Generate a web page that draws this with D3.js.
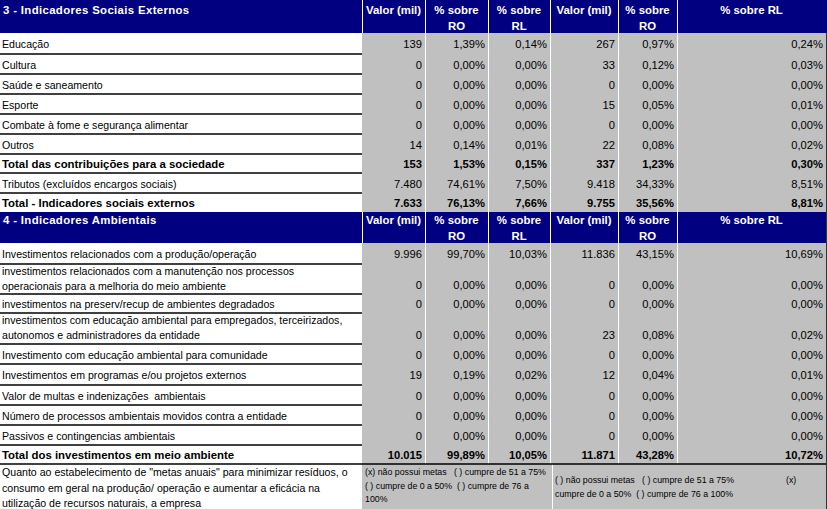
<!DOCTYPE html>
<html><head><meta charset="utf-8">
<script src="https://cdn.jsdelivr.net/npm/d3@7"></script>
<style>
body{margin:0;background:#fff;}
svg{display:block;font-family:"Liberation Sans",Arial,sans-serif;}
svg text{white-space:pre;}
</style></head>
<body>
<svg id="chart" width="827" height="509"></svg>
<script>
// ---------- DATA ----------
const columnHeaders = [["Valor (mil)"],["% sobre","RO"],["% sobre","RL"],["Valor (mil)"],["% sobre","RO"],["% sobre RL"]];

const socialTitle = "3 - Indicadores Sociais Externos";
const socialLabels = [["Educação"],["Cultura"],["Saúde e saneamento"],["Esporte"],["Combate à fome e segurança alimentar"],["Outros"],["Total das contribuições para a sociedade"],["Tributos (excluídos encargos sociais)"],["Total - Indicadores sociais externos"]];
const socialBold = [false,false,false,false,false,false,true,false,true];
const socialValor1 = [139,0,0,0,0,14,153,7480,7633];
const socialRO1    = [1.39,0,0,0,0,0.14,1.53,74.61,76.13];
const socialRL1    = [0.14,0,0,0,0,0.01,0.15,7.50,7.66];
const socialValor2 = [267,33,0,15,0,22,337,9418,9755];
const socialRO2    = [0.97,0.12,0,0.05,0,0.08,1.23,34.33,35.56];
const socialRL2    = [0.24,0.03,0,0.01,0,0.02,0.30,8.51,8.81];

const envTitle = "4 - Indicadores Ambientais";
const envLabels = [["Investimentos relacionados com a produção/operação"],
  ["investimentos relacionados com a manutenção nos processos","operacionais para a melhoria do meio ambiente"],
  ["investimentos na preserv/recup de ambientes degradados"],
  ["investimentos com educação ambiental para empregados, terceirizados,","autonomos e administradores da entidade"],
  ["Investimento com educação ambiental para comunidade"],
  ["Investimentos em programas e/ou projetos externos"],
  ["Valor de multas e indenizações  ambientais"],
  ["Número de processos ambientais movidos contra a entidade"],
  ["Passivos e contingencias ambientais"],
  ["Total dos investimentos em meio ambiente"]];
const envBold = [false,false,false,false,false,false,false,false,false,true];
const envValor1 = [9996,0,0,0,0,19,0,0,0,10015];
const envRO1    = [99.70,0,0,0,0,0.19,0,0,0,99.89];
const envRL1    = [10.03,0,0,0,0,0.02,0,0,0,10.05];
const envValor2 = [11836,0,0,23,0,12,0,0,0,11871];
const envRO2    = [43.15,0,0,0.08,0,0.04,0,0,0,43.28];
const envRL2    = [10.69,0,0,0.02,0,0.01,0,0,0,10.72];

const metasLabel = ["Quanto ao estabelecimento de \"metas anuais\" para minimizar resíduos, o","consumo em geral na produção/ operação e aumentar a eficácia na","utilização de recursos naturais, a empresa"];
const metasCell1 = ["(x) não possui metas   ( ) cumpre de 51 a 75%","( ) cumpre de 0 a 50%  ( ) cumpre de 76 a","100%"];
const metasCell2 = ["( ) não possui metas   ( ) cumpre de 51 a 75%","cumpre de 0 a 50%  ( ) cumpre de 76 a 100%"];
const metasCell3 = ["(x)"];

// ---------- LAYOUT ----------
const W = 827, H = 509;
const NAVY = "#000080", GREY = "#C0C0C0";
const colKeys = ["label","v1","ro1","rl1","v2","ro2","rl2"];
const colEdges = [0,362,425,488,550,618,677,826];
const xLeft = d3.scaleOrdinal().domain(colKeys).range(colEdges.slice(0,-1));
const xRight = d3.scaleOrdinal().domain(colKeys).range(colEdges.slice(1));

const locale = d3.formatLocale({decimal:",",thousands:".",grouping:[3],currency:["R$",""]});
const fmtInt = locale.format(",d");
const fmtPct = v => locale.format(",.2f")(v) + "%";

const socialHeights = [21,20,20,20,20,20,19,20,19];
const envHeights = [21,30,19,31,20,21,20,20,20,19];
const metasH = 45;
const FS_LABEL = 10.6, FS_BOLDLABEL = 11.4, FS_VAL = 11.2, FS_HEAD = 11.4, FS_SMALL = 8.8;

const svg = d3.select("#chart");
svg.append("rect").attr("width",W).attr("height",H).attr("fill","#fff");

function buildRows(labels,bold,a,b,c,d,e,f){
  return labels.map((l,i)=>({label:l,bold:bold[i],vals:[fmtInt(a[i]),fmtPct(b[i]),fmtPct(c[i]),fmtInt(d[i]),fmtPct(e[i]),fmtPct(f[i])]}));
}
const socialRows = buildRows(socialLabels,socialBold,socialValor1,socialRO1,socialRL1,socialValor2,socialRO2,socialRL2);
const envRows = buildRows(envLabels,envBold,envValor1,envRO1,envRL1,envValor2,envRO2,envRL2);

function drawHeader(y0,h,title,base){
  const g = svg.append("g");
  g.append("rect").attr("x",0).attr("y",y0).attr("width",W).attr("height",h).attr("fill",NAVY);
  g.append("text").attr("x",3).attr("y",y0+base).attr("fill","#fff").attr("font-weight","bold")
    .attr("font-size",FS_HEAD).attr("letter-spacing",0.35).text(title);
  colKeys.slice(1).forEach((k,i)=>{
    const cx = (xLeft(k)+xRight(k))/2;
    columnHeaders[i].forEach((t,j)=>{
      g.append("text").attr("x",cx).attr("y",y0+base+j*15.5).attr("text-anchor","middle")
        .attr("fill","#fff").attr("font-weight","bold").attr("font-size",FS_HEAD).text(t);
    });
    g.append("line").attr("x1",xLeft(k)+0.5).attr("x2",xLeft(k)+0.5).attr("y1",y0).attr("y2",y0+h)
      .attr("stroke","#fff").attr("stroke-width",1);
  });
  return y0+h;
}

function drawBody(y0,rows,heights){
  const tops = [y0, ...d3.cumsum(heights).map(v=>v+y0)];
  const yEnd = tops[tops.length-1];
  svg.append("rect").attr("x",colEdges[1]).attr("y",y0).attr("width",colEdges[7]-colEdges[1]).attr("height",yEnd-y0).attr("fill",GREY);
  rows.forEach((r,i)=>{
    const top = tops[i], h = heights[i];
    const g = svg.append("g");
    const n = r.label.length;
    r.label.forEach((t,j)=>{
      const base = n===1 ? top + h/2 + 4.5 : top + 11 + j*15;
      g.append("text").attr("x",2).attr("y",base).attr("font-size",r.bold?FS_BOLDLABEL:FS_LABEL)
        .attr("font-weight",r.bold?"bold":"normal").attr("fill","#000").text(t);
    });
    const vb = n===1 ? top + h/2 + 4.5 : top + h - 5;
    r.vals.forEach((v,k)=>{
      const key = colKeys[k+1];
      g.append("text").attr("x",xRight(key)-3).attr("y",vb).attr("text-anchor","end").attr("font-size",FS_VAL)
        .attr("font-weight",r.bold?"bold":"normal").attr("fill","#000").text(v);
    });
    if(i>0){
      svg.append("line").attr("x1",0).attr("x2",colEdges[1]).attr("y1",top).attr("y2",top)
        .attr("stroke","#000").attr("stroke-width",1.4);
    }
  });
  colKeys.slice(2).forEach(k=>{
    svg.append("line").attr("x1",xLeft(k)+0.5).attr("x2",xLeft(k)+0.5).attr("y1",y0).attr("y2",yEnd)
      .attr("stroke","#fff").attr("stroke-width",1);
  });
  return yEnd;
}

let y = 0;
y = drawHeader(y,33,socialTitle,14);
y = drawBody(y,socialRows,socialHeights);
y = drawHeader(y,31,envTitle,12);
y = drawBody(y,envRows,envHeights);

// metas block
const mTop = y;
svg.append("rect").attr("x",colEdges[1]).attr("y",mTop).attr("width",colEdges[7]-colEdges[1]).attr("height",metasH).attr("fill",GREY);
svg.append("line").attr("x1",552.5).attr("x2",552.5).attr("y1",mTop).attr("y2",H).attr("stroke","#fff");
metasLabel.forEach((t,j)=>{
  svg.append("text").attr("x",2).attr("y",mTop+12+j*15.5).attr("font-size",FS_LABEL).attr("fill","#000").text(t);
});
metasCell1.forEach((t,j)=>{
  svg.append("text").attr("x",365).attr("y",mTop+11+j*13.5).attr("font-size",FS_SMALL).attr("fill","#000").text(t);
});
metasCell2.forEach((t,j)=>{
  svg.append("text").attr("x",555).attr("y",mTop+19+j*13.5).attr("font-size",FS_SMALL).attr("fill","#000").text(t);
});
metasCell3.forEach((t,j)=>{
  svg.append("text").attr("x",786).attr("y",mTop+19+j*13.5).attr("font-size",FS_SMALL).attr("fill","#000").text(t);
});
svg.append("line").attr("x1",0).attr("x2",W).attr("y1",mTop).attr("y2",mTop).attr("stroke","#000").attr("stroke-width",1.4);
// right border
svg.append("line").attr("x1",826.5).attr("x2",826.5).attr("y1",33).attr("y2",H).attr("stroke","#333").attr("stroke-width",1);
</script>
</body></html>
